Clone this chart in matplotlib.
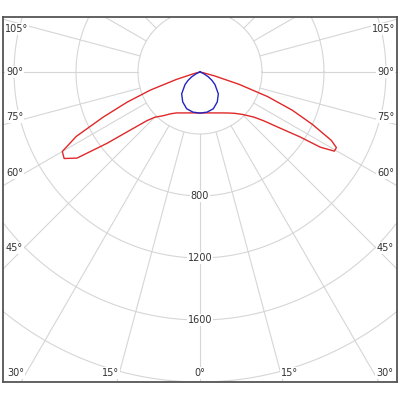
import numpy as np
import matplotlib
matplotlib.use("Agg")
import matplotlib.pyplot as plt

# C0 plane (right half), gamma in degrees, intensity in cd
gamma_c0 = [0, 10, 20, 30, 35, 40, 45, 50, 52.5, 55, 57, 58, 59.5, 61, 62.5,
            65, 67.5, 70, 72.5, 75, 77.5, 80, 90]
int_c0 = [265, 268, 281, 305, 323, 348, 387, 452, 516, 632, 768, 916, 1006,
          1006, 955, 800, 645, 465, 265, 97, 19, 0, 0]

# C180 plane (left half)
gamma_c180 = [0, 10, 20, 30, 35, 40, 45, 47.5, 50, 52.5, 55, 57.5, 60, 62.5,
              65, 67.5, 70, 72.5, 75, 80, 90]
int_c180 = [265, 268, 281, 305, 329, 368, 413, 465, 574, 755, 968, 1039, 1026,
            900, 690, 510, 340, 160, 45, 5, 0]

# C90 / C270 plane (blue, symmetric)
gamma_c90 = [0, 10, 20, 30, 40, 50, 55, 60, 65, 70, 90]
int_c90 = [265, 263, 252, 223, 184, 126, 94, 61, 29, 6, 0]

ring_values = [400, 800, 1200, 1600, 2000, 2400]
ring_labels = [800, 1200, 1600]
angle_labels = [0, 15, 30, 45, 60, 75, 90, 105]

px = 400 / 62.0          # cd per pixel
xlim = (-197 * px, 197 * px)
ylim = (-2000, 55 * px)

fig = plt.figure(figsize=(4, 4), dpi=100)
ax = fig.add_axes([3 / 400, 18 / 400, 394 / 400, 365 / 400])
ax.set_xlim(*xlim)
ax.set_ylim(*ylim)
ax.set_xticks([])
ax.set_yticks([])
for s in ax.spines.values():
    s.set_color("#555555")
    s.set_linewidth(1.3)

grid_col = "#d6d6d6"
t = np.linspace(0, 2 * np.pi, 400)
for r in ring_values:
    ax.plot(r * np.cos(t), r * np.sin(t), color=grid_col, lw=0.8, zorder=1)

for a in range(0, 360, 15):
    ang = np.radians(a)
    ax.plot([400 * np.sin(ang), 4000 * np.sin(ang)],
            [-400 * np.cos(ang), -4000 * np.cos(ang)],
            color=grid_col, lw=0.8, zorder=1)


def polar_xy(gamma, vals, side):
    g = np.radians(np.array(gamma, dtype=float))
    v = np.array(vals, dtype=float)
    return side * v * np.sin(g), -v * np.cos(g)


# red curve: left half (C180) then right half (C0)
xl, yl = polar_xy(gamma_c180, int_c180, -1)
xr, yr = polar_xy(gamma_c0, int_c0, 1)
ax.plot(np.concatenate([xl[::-1], xr]), np.concatenate([yl[::-1], yr]),
        color="#e02828", lw=1.0, zorder=3)

# blue curve
xb1, yb1 = polar_xy(gamma_c90, int_c90, -1)
xb2, yb2 = polar_xy(gamma_c90, int_c90, 1)
ax.plot(np.concatenate([xb1[::-1], xb2]), np.concatenate([yb1[::-1], yb2]),
        color="#2424c0", lw=1.0, zorder=4)

box = dict(facecolor="white", edgecolor="none", pad=0.8)
txt = dict(fontsize=7, color="#333333", ha="center", va="center", zorder=5)

for r in ring_labels:
    ax.text(0, -r, str(r), bbox=box, **txt)

# angle labels placed on an inset frame along each ray
x_in = xlim[1] - 11.5 * px
y_bot = ylim[0] + 9 * px
y_top = ylim[1] - 12 * px
for a in angle_labels:
    if 0 < a < 90:
        phi = a + 1.5
    elif a > 90:
        phi = a - 1.8
    else:
        phi = a
    p = np.radians(phi)
    cands = []
    if np.sin(p) > 1e-6:
        cands.append(x_in / np.sin(p))
    if np.cos(p) > 1e-6:
        cands.append(-y_bot / np.cos(p))
    elif np.cos(p) < -1e-6:
        cands.append(y_top / -np.cos(p))
    d = min(cands)
    sides = [1] if a == 0 else [-1, 1]
    for sd in sides:
        ax.text(sd * d * np.sin(p), -d * np.cos(p), f"{a}°", bbox=box, **txt)

fig.savefig("out.png", dpi=100)
